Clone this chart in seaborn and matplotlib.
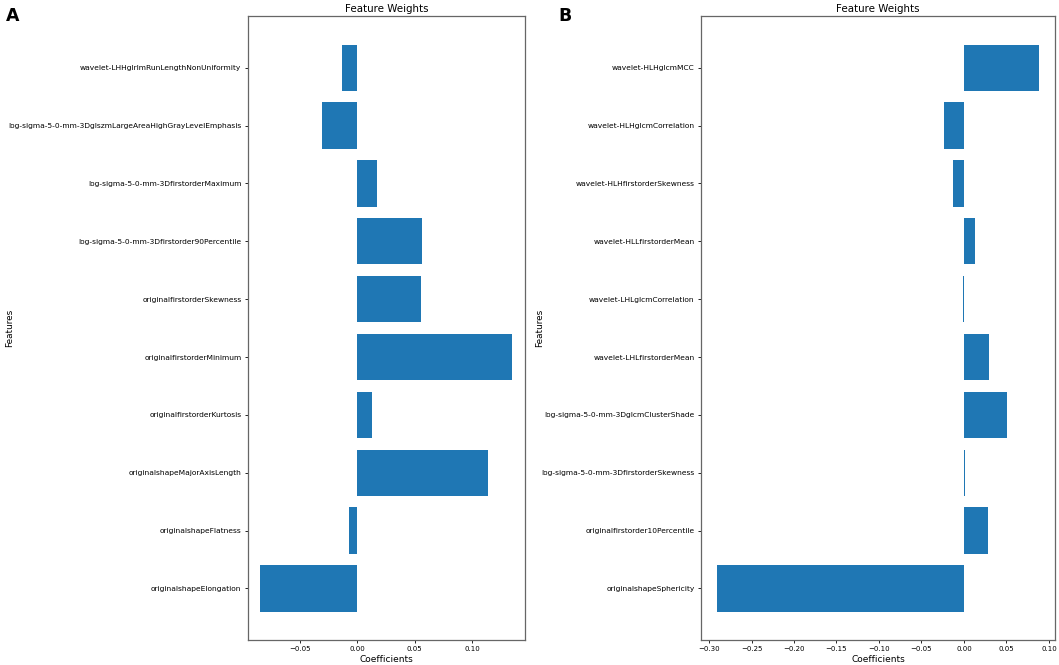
import matplotlib
matplotlib.use("Agg")
import matplotlib.pyplot as plt
import seaborn as sns
import pandas as pd

# --- dados (de cima para baixo) ---
features_a = [
    "wavelet-LHHglrlmRunLengthNonUniformity",
    "log-sigma-5-0-mm-3DglszmLargeAreaHighGrayLevelEmphasis",
    "log-sigma-5-0-mm-3DfirstorderMaximum",
    "log-sigma-5-0-mm-3Dfirstorder90Percentile",
    "originalfirstorderSkewness",
    "originalfirstorderMinimum",
    "originalfirstorderKurtosis",
    "originalshapeMajorAxisLength",
    "originalshapeFlatness",
    "originalshapeElongation",
]
coefs_a = [-0.0127, -0.0302, 0.0170, 0.0563, 0.0560, 0.1350, 0.0129, 0.1139, -0.0072, -0.0841]

features_b = [
    "wavelet-HLHglcmMCC",
    "wavelet-HLHglcmCorrelation",
    "wavelet-HLHfirstorderSkewness",
    "wavelet-HLLfirstorderMean",
    "wavelet-LHLglcmCorrelation",
    "wavelet-LHLfirstorderMean",
    "log-sigma-5-0-mm-3DglcmClusterShade",
    "log-sigma-5-0-mm-3DfirstorderSkewness",
    "originalfirstorder10Percentile",
    "originalshapeSphericity",
]
coefs_b = [0.0880, -0.0232, -0.0126, 0.0126, -0.0010, 0.0298, 0.0510, 0.0010, 0.0280, -0.2905]

df_a = pd.DataFrame({"Features": features_a, "Coefficients": coefs_a})
df_b = pd.DataFrame({"Features": features_b, "Coefficients": coefs_b})

fig = plt.figure(figsize=(10.59, 6.65), dpi=100)
ax_a = fig.add_axes([0.234, 0.0376, 0.2616, 0.938])
ax_b = fig.add_axes([0.662, 0.0376, 0.334, 0.938])

paineis = [(ax_a, df_a, "A", 0.006, -0.843), (ax_b, df_b, "B", 0.527, -0.445)]
for ax, df, letra, xletra, xlab in paineis:
    sns.barplot(data=df, x="Coefficients", y="Features", orient="h", ax=ax,
                color="#1f77b4", saturation=1, width=0.8, linewidth=0)
    n = len(df)
    pad = 0.05 * (n - 1 + 0.8)
    ax.set_ylim(n - 1 + 0.4 + pad, -0.4 - pad)
    ax.set_title("Feature Weights", fontsize=7.4, pad=3)
    ax.set_xlabel("Coefficients", fontsize=6.5, labelpad=2)
    ax.set_ylabel("Features", fontsize=6.4)
    ax.yaxis.set_label_coords(xlab, 0.5)
    ax.tick_params(axis="y", labelsize=5.4, length=2.5, width=0.6, pad=2)
    ax.tick_params(axis="x", labelsize=5, length=2.5, width=0.6, pad=2)
    for s in ax.spines.values():
        s.set_linewidth(0.9)
        s.set_color("#666666")
        s.set_visible(True)
    fig.text(xletra, 0.99, letra, fontsize=12.5, fontweight="bold", va="top", ha="left")

# margens padrao do matplotlib no eixo x
ax_a.margins(x=0.05)
ax_b.margins(x=0.05)
ax_b.set_xticks([-0.30, -0.25, -0.20, -0.15, -0.10, -0.05, 0.00, 0.05, 0.10])

plt.savefig("out.png", dpi=100)
